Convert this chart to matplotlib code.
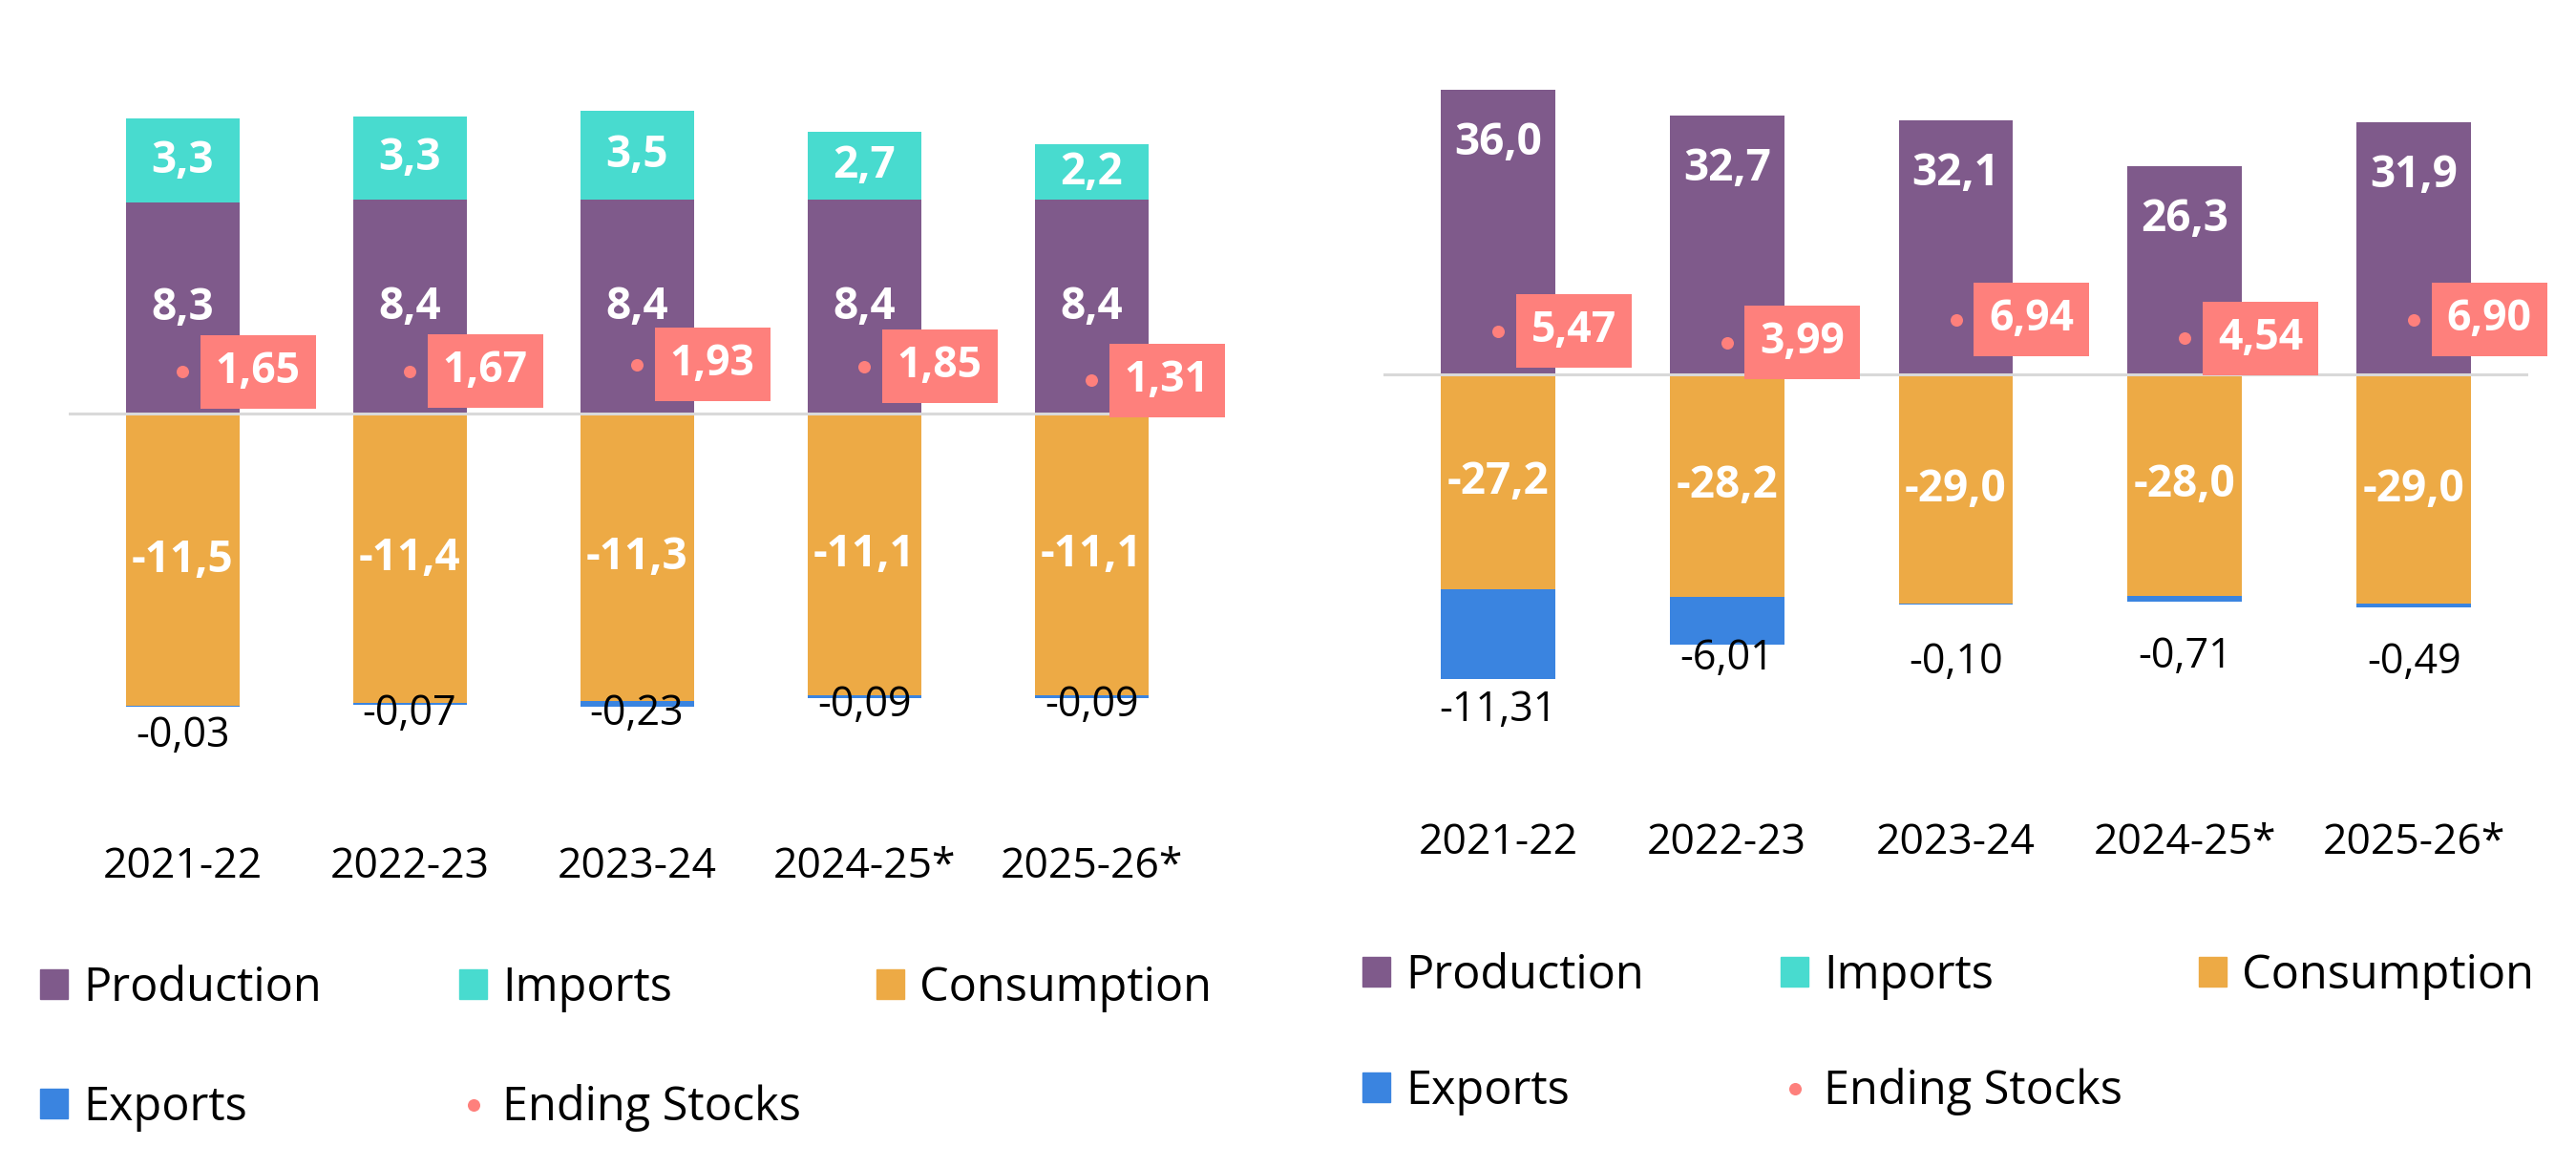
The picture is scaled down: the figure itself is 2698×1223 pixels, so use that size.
import matplotlib
matplotlib.use("Agg")
import matplotlib.pyplot as plt
from matplotlib.patches import Patch
from matplotlib.lines import Line2D

plt.rcParams['font.family'] = ['Open Sans', 'DejaVu Sans']

# data
cats = ['2021-22', '2022-23', '2023-24', '2024-25*', '2025-26*']

left_prod = [8.3, 8.4, 8.4, 8.4, 8.4]
left_imp = [3.3, 3.3, 3.5, 2.7, 2.2]
left_cons = [-11.5, -11.4, -11.3, -11.1, -11.1]
left_exp = [-0.03, -0.07, -0.23, -0.09, -0.09]
left_stock = [1.65, 1.67, 1.93, 1.85, 1.31]

right_prod = [36.0, 32.7, 32.1, 26.3, 31.9]
right_imp = [0, 0, 0, 0, 0]
right_cons = [-27.2, -28.2, -29.0, -28.0, -29.0]
right_exp = [-11.31, -6.01, -0.10, -0.71, -0.49]
right_stock = [5.47, 3.99, 6.94, 4.54, 6.90]

c_prod = '#7F5A8B'
c_imp = '#48DBCF'
c_cons = '#EDAA45'
c_exp = '#3A84E0'
c_stock = '#FE807C'

W, H = 2698, 1223
fig = plt.figure(figsize=(W / 100, H / 100), dpi=100)


def rect(x0, y0, x1, y1):
    return [x0 / W, 1 - y1 / H, (x1 - x0) / W, (y1 - y0) / H]


def fmt(v, nd):
    return f'{v:.{nd}f}'.replace('.', ',')


def draw(ax, prod, imp, cons, exp, stock, ylim, prod_top, exp_dy, tick_pad):
    x = range(len(cats))
    ax.bar(x, prod, width=0.5, color=c_prod, zorder=2)
    ax.bar(x, imp, width=0.5, bottom=prod, color=c_imp, zorder=2)
    ax.bar(x, cons, width=0.5, color=c_cons, zorder=2)
    ax.bar(x, exp, width=0.5, bottom=cons, color=c_exp, zorder=2)
    ax.axhline(0, color='#D9D9D9', lw=2.2, zorder=3)
    ax.scatter(x, stock, s=88, color=c_stock, zorder=4, linewidths=0)

    lab = dict(color='white', fontsize=33, fontweight='bold', ha='center', va='center', zorder=6)
    for i in x:
        if prod_top:
            ax.annotate(fmt(prod[i], 1), (i, prod[i]), xytext=(0, -40), textcoords='offset points', **lab)
        else:
            ax.text(i, prod[i] / 2, fmt(prod[i], 1), **lab)
        if imp[i] > 0:
            ax.text(i, prod[i] + imp[i] / 2, fmt(imp[i], 1), **lab)
        ax.text(i, cons[i] / 2, fmt(cons[i], 1), **lab)
        ax.annotate(fmt(exp[i], 2), (i, cons[i] + exp[i]), xytext=(0, -(exp_dy[i] + 4) / 1.389),
                    textcoords='offset points', ha='center', va='center', fontsize=31,
                    color='black', zorder=6)
        ax.annotate(fmt(stock[i], 2), (i, stock[i]), xytext=(25, 0), textcoords='offset points',
                    ha='left', va='center', fontsize=32, fontweight='bold', color='white', zorder=6,
                    bbox=dict(boxstyle='square,pad=0.36', fc=c_stock, ec='none'))

    ax.set_xlim(-0.5, 4.5)
    ax.set_ylim(*ylim)
    ax.set_xticks(list(x), cats)
    ax.tick_params(axis='x', length=0, labelsize=32, pad=tick_pad)
    ax.set_yticks([])
    for s in ax.spines.values():
        s.set_visible(False)


ax1 = fig.add_axes(rect(72, 60, 1262, 870))
draw(ax1, left_prod, left_imp, left_cons, left_exp, left_stock,
     (-(870 - 433) / 26.62, (433 - 60) / 26.62), False, [27, 5, 4, 4, 4], 11.5)

ax2 = fig.add_axes(rect(1449, 60, 2648, 845))
draw(ax2, right_prod, right_imp, right_cons, right_exp, right_stock,
     (-(845 - 392) / 8.28, (392 - 60) / 8.28), True, [29, 10, 57, 54, 54], 11)

# legends, one entry each so columns line up like the original
handles = [Patch(color=c_prod), Patch(color=c_imp), Patch(color=c_cons), Patch(color=c_exp),
           Line2D([], [], marker='o', ls='none', color=c_stock, markersize=9.4, markeredgewidth=0)]
names = ['Production', 'Imports', 'Consumption', 'Exports', 'Ending Stocks']
spots = [
    ([42, 481, 918, 42, 481], [1035, 1035, 1035, 1160, 1160]),
    ([1427, 1865, 2303, 1427, 1865], [1022, 1022, 1022, 1143, 1143]),
]
for xs, ys in spots:
    for h, n, xp, yp in zip(handles, names, xs, ys):
        fig.legend([h], [n], loc='center left', bbox_to_anchor=(xp / W, 1 - yp / H),
                   frameon=False, fontsize=35, borderpad=0, borderaxespad=0,
                   handlelength=0.6, handleheight=0.6, handletextpad=0.33)

fig.savefig('out.png', dpi=100)
